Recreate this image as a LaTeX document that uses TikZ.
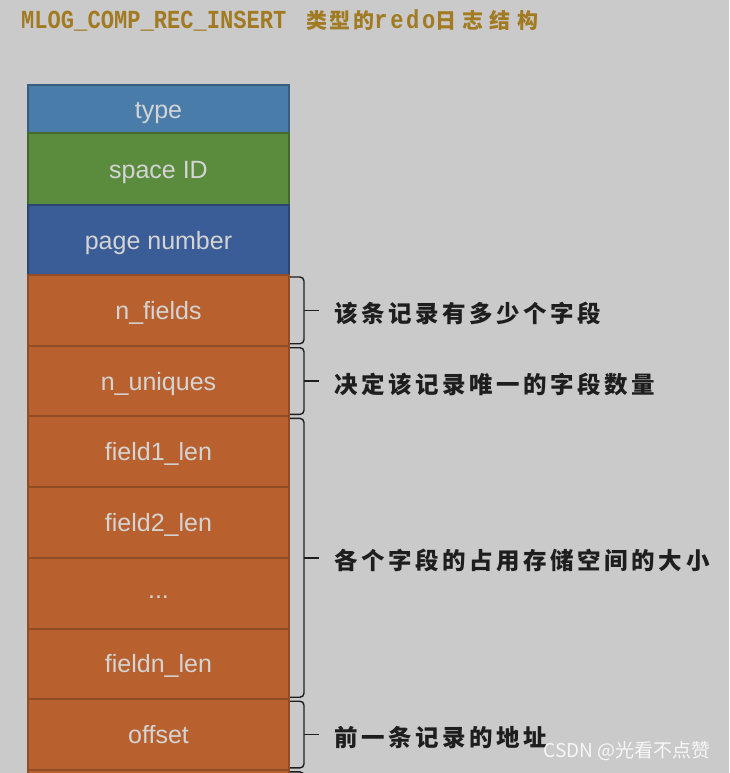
\documentclass[tikz,border=0pt]{standalone}
\usepackage{fontspec}
\setmainfont{Liberation Sans}
\newfontfamily\cjk{Noto Sans CJK SC}
\newfontfamily\titlemono{Liberation Mono}[FakeStretch=0.85]
\usetikzlibrary{positioning, calc}
\definecolor{RDbg}{HTML}{CACACA}
\definecolor{RDtype}{HTML}{4A7CAA}
\definecolor{RDspace}{HTML}{5B8B3C}
\definecolor{RDpage}{HTML}{3A5D97}
\definecolor{RDfield}{HTML}{B9612E}
\definecolor{RDtext}{HTML}{D4D4D4}
\definecolor{RDgold}{HTML}{A27A22}
\definecolor{RDink}{HTML}{1E1E1E}
\tikzset{
  rdcell/.style={
    rectangle, minimum width=261pt, inner sep=0pt, outer sep=0pt,
    text height=20pt, text depth=2pt,
    line width=2pt, text=RDtext, font=\fontsize{25}{28}\selectfont},
  rdtype/.style={rdcell, fill=RDtype, draw=RDtype!75!black, minimum height=48pt},
  rdspace/.style={rdcell, fill=RDspace, draw=RDspace!75!black, minimum height=72pt},
  rdpage/.style={rdcell, fill=RDpage, draw=RDpage!75!black, minimum height=70pt},
  rdfield/.style={rdcell, fill=RDfield, draw=RDfield!78!black, minimum height=70.7pt},
  rdbrace/.style={draw=RDink, line width=1.4pt, rounded corners=4pt},
  rdlbl/.style={
    font=\cjk\bfseries\addfontfeatures{LetterSpace=15}\fontsize{23.5}{25}\selectfont,
    text=RDink, anchor=west, inner sep=0pt, yshift=-3pt},
  rdtitle/.style={text=RDgold, anchor=west, inner sep=0pt},
  rdmark/.style={text=white, opacity=.85, font=\cjk\fontsize{19}{21}\selectfont, inner sep=0pt},
}

\begin{document}
\begin{tikzpicture}[x=1pt, y=1pt]
  \fill[RDbg] (0,0) rectangle (729,-773);
  \clip (0,0) rectangle (729,-773);

  \node[rdtitle] (title) at (21,-20)
    {{\titlemono\bfseries\fontsize{26}{28}\selectfont MLOG\_COMP\_REC\_INSERT}\hspace{20pt}%
     {\cjk\bfseries\fontsize{21}{22}\selectfont\addfontfeatures{LetterSpace=12}类型的}%
     {\titlemono\bfseries\fontsize{26}{28}\selectfont\addfontfeatures{LetterSpace=10}redo}%
     {\cjk\bfseries\fontsize{21}{22}\selectfont\addfontfeatures{LetterSpace=30}日志结构}};

  % record layout
  \node[rdtype] (type) at (158.5,-109) {type};
  \node[rdspace, below=0pt of type]    (space) {space ID};
  \node[rdpage,  below=0pt of space]   (page) {page number};
  \node[rdfield, below=0pt of page]    (nfields) {n\_fields};
  \node[rdfield, below=0pt of nfields] (nuniques) {n\_uniques};
  \node[rdfield, below=0pt of nuniques] (flen1) {field1\_len};
  \node[rdfield, below=0pt of flen1]   (flen2) {field2\_len};
  \node[rdfield, below=0pt of flen2]   (fdots) {\raisebox{4pt}{...}};
  \node[rdfield, below=0pt of fdots]   (flenn) {fieldn\_len};
  \node[rdfield, below=0pt of flenn]   (offset) {offset};
  \node[rdfield, below=0pt of offset]  (next) {};

  % braces with notes
  \foreach \a/\b/\nm/\txt in {nfields/nfields/bnf/该条记录有多少个字段,
                              nuniques/nuniques/bnu/决定该记录唯一的字段数量,
                              flen1/flenn/bfl/各个字段的占用存储空间的大小,
                              offset/offset/bof/前一条记录的地址,
                              next/next/bnx/{}}{
    \coordinate (\nm) at ($(\a.north east)!.5!(\b.south east)+(15,0)$);
    \draw[rdbrace] ($(\a.north east)+(1,-2)$) -| (\nm) |- ($(\b.south east)+(1,2)$);
    \draw[rdbrace] (\nm) -- ++(15,0) node[rdlbl, right=15pt] {\txt};
  }

  \node[rdmark] (mark) at (627,-751) {CSDN @光看不点赞};
\end{tikzpicture}
\end{document}
